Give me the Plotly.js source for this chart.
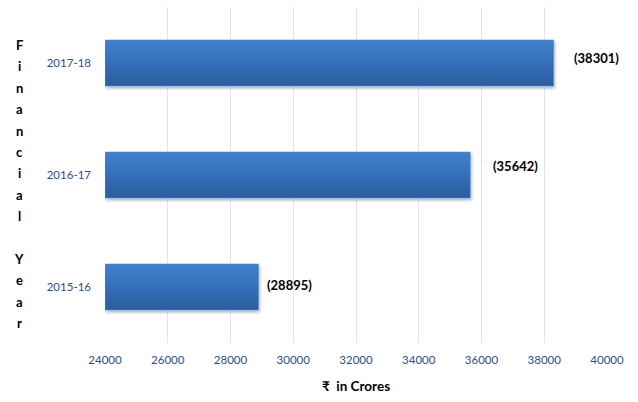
<!DOCTYPE html>
<html>
<head>
<meta charset="utf-8">
<script src="https://cdn.plot.ly/plotly-3.0.1.min.js"></script>
<style>html,body{margin:0;padding:0;background:#fff;}</style>
</head>
<body>
<div id="chart" style="width:638px;height:402px;"></div>
<script>
const years = ["2015-16", "2016-17", "2017-18"];
const amounts = [28895, 35642, 38301];
const tickValues = [24000, 26000, 28000, 30000, 32000, 34000, 36000, 38000, 40000];
const xTitle = "₹  in Crores";
const yTitle = "Financial Year";
const axisStart = 24000;

const labelShiftX = [6, 21, 18];
const labelShiftY = [2, 9, 5];

const trace = {
  type: "bar",
  orientation: "h",
  y: years,
  x: amounts.map(v => v - axisStart),
  base: axisStart,
  width: 0.41,
  marker: { color: "#3468B0", line: { color: "#5A8ED0", width: 0.6 } },
  hoverinfo: "skip"
};

const annotations = years.map((y, i) => ({
  x: amounts[i], y: y, xref: "x", yref: "y",
  text: "(" + amounts[i] + ")", showarrow: false,
  xanchor: "left", yanchor: "middle",
  xshift: labelShiftX[i], yshift: labelShiftY[i],
  font: { family: "Lato, 'Open Sans', sans-serif", size: 13, color: "#000", weight: "bold" }
}));

const W = 638, H = 402, ML = 105, MR = 31, MT = 7, MB = 59;
const plotW = W - ML - MR, plotH = H - MT - MB;
const letters = yTitle.split("");
const topY = 45, stepY = 21.4, letterX = 19;
letters.forEach((ch, i) => {
  if (ch === " ") return;
  const pixY = topY + i * stepY;
  annotations.push({
    x: (letterX - ML) / plotW, y: (H - MB - pixY) / plotH, xref: "paper", yref: "paper",
    text: ch, showarrow: false, xanchor: "center", yanchor: "middle",
    font: { family: "Lato, 'Open Sans', sans-serif", size: 13, color: "#000", weight: "bold" }
  });
});

const layout = {
  width: W, height: H,
  margin: { l: ML, r: MR, t: MT, b: MB },
  paper_bgcolor: "#fff", plot_bgcolor: "#fff",
  showlegend: false,
  xaxis: {
    range: [24000, 40000],
    tickvals: tickValues,
    ticktext: tickValues.map(String),
    showgrid: true, gridcolor: "#DCE6F2", gridwidth: 1,
    zeroline: false, showline: false, ticks: "",
    ticklabelstandoff: 8,
    tickfont: { family: "Lato, 'Open Sans', sans-serif", size: 11.5, color: "#2B4F86" },
    title: { text: xTitle, standoff: 17,
      font: { family: "Lato, 'DejaVu Sans', sans-serif", size: 13.5, color: "#000", weight: "bold" } }
  },
  yaxis: {
    categoryorder: "array", categoryarray: years,
    range: [-0.5, 2.5],
    showgrid: false, zeroline: false, showline: false, ticks: "",
    ticklabelstandoff: 13,
    tickfont: { family: "Lato, 'Open Sans', sans-serif", size: 11.5, color: "#2B4F86" }
  },
  annotations: annotations
};

Plotly.newPlot("chart", [trace], layout, { staticPlot: true, displayModeBar: false }).then(() => {
  const svg = document.querySelector("#chart .main-svg");
  const ns = "http://www.w3.org/2000/svg";
  let defs = svg.querySelector("defs");
  if (!defs) { defs = document.createElementNS(ns, "defs"); svg.insertBefore(defs, svg.firstChild); }
  const g = document.createElementNS(ns, "linearGradient");
  g.setAttribute("id", "barGrad");
  g.setAttribute("x1", "0"); g.setAttribute("y1", "0");
  g.setAttribute("x2", "0"); g.setAttribute("y2", "1");
  [["0", "#3F7FCC"], ["0.5", "#3570BA"], ["1", "#2C5C9C"]].forEach(([o, c]) => {
    const s = document.createElementNS(ns, "stop");
    s.setAttribute("offset", o); s.setAttribute("stop-color", c);
    g.appendChild(s);
  });
  defs.appendChild(g);
  const f = document.createElementNS(ns, "filter");
  f.setAttribute("id", "barShadow");
  f.setAttribute("x", "-5%"); f.setAttribute("y", "-20%");
  f.setAttribute("width", "110%"); f.setAttribute("height", "150%");
  const ds = document.createElementNS(ns, "feDropShadow");
  ds.setAttribute("dx", "1"); ds.setAttribute("dy", "2");
  ds.setAttribute("stdDeviation", "1.5");
  ds.setAttribute("flood-color", "#000"); ds.setAttribute("flood-opacity", "0.3");
  f.appendChild(ds);
  defs.appendChild(f);
  document.querySelectorAll("#chart .bars path").forEach(p => {
    p.style.fill = "url(#barGrad)";
    p.setAttribute("filter", "url(#barShadow)");
  });
});
</script>
</body>
</html>
